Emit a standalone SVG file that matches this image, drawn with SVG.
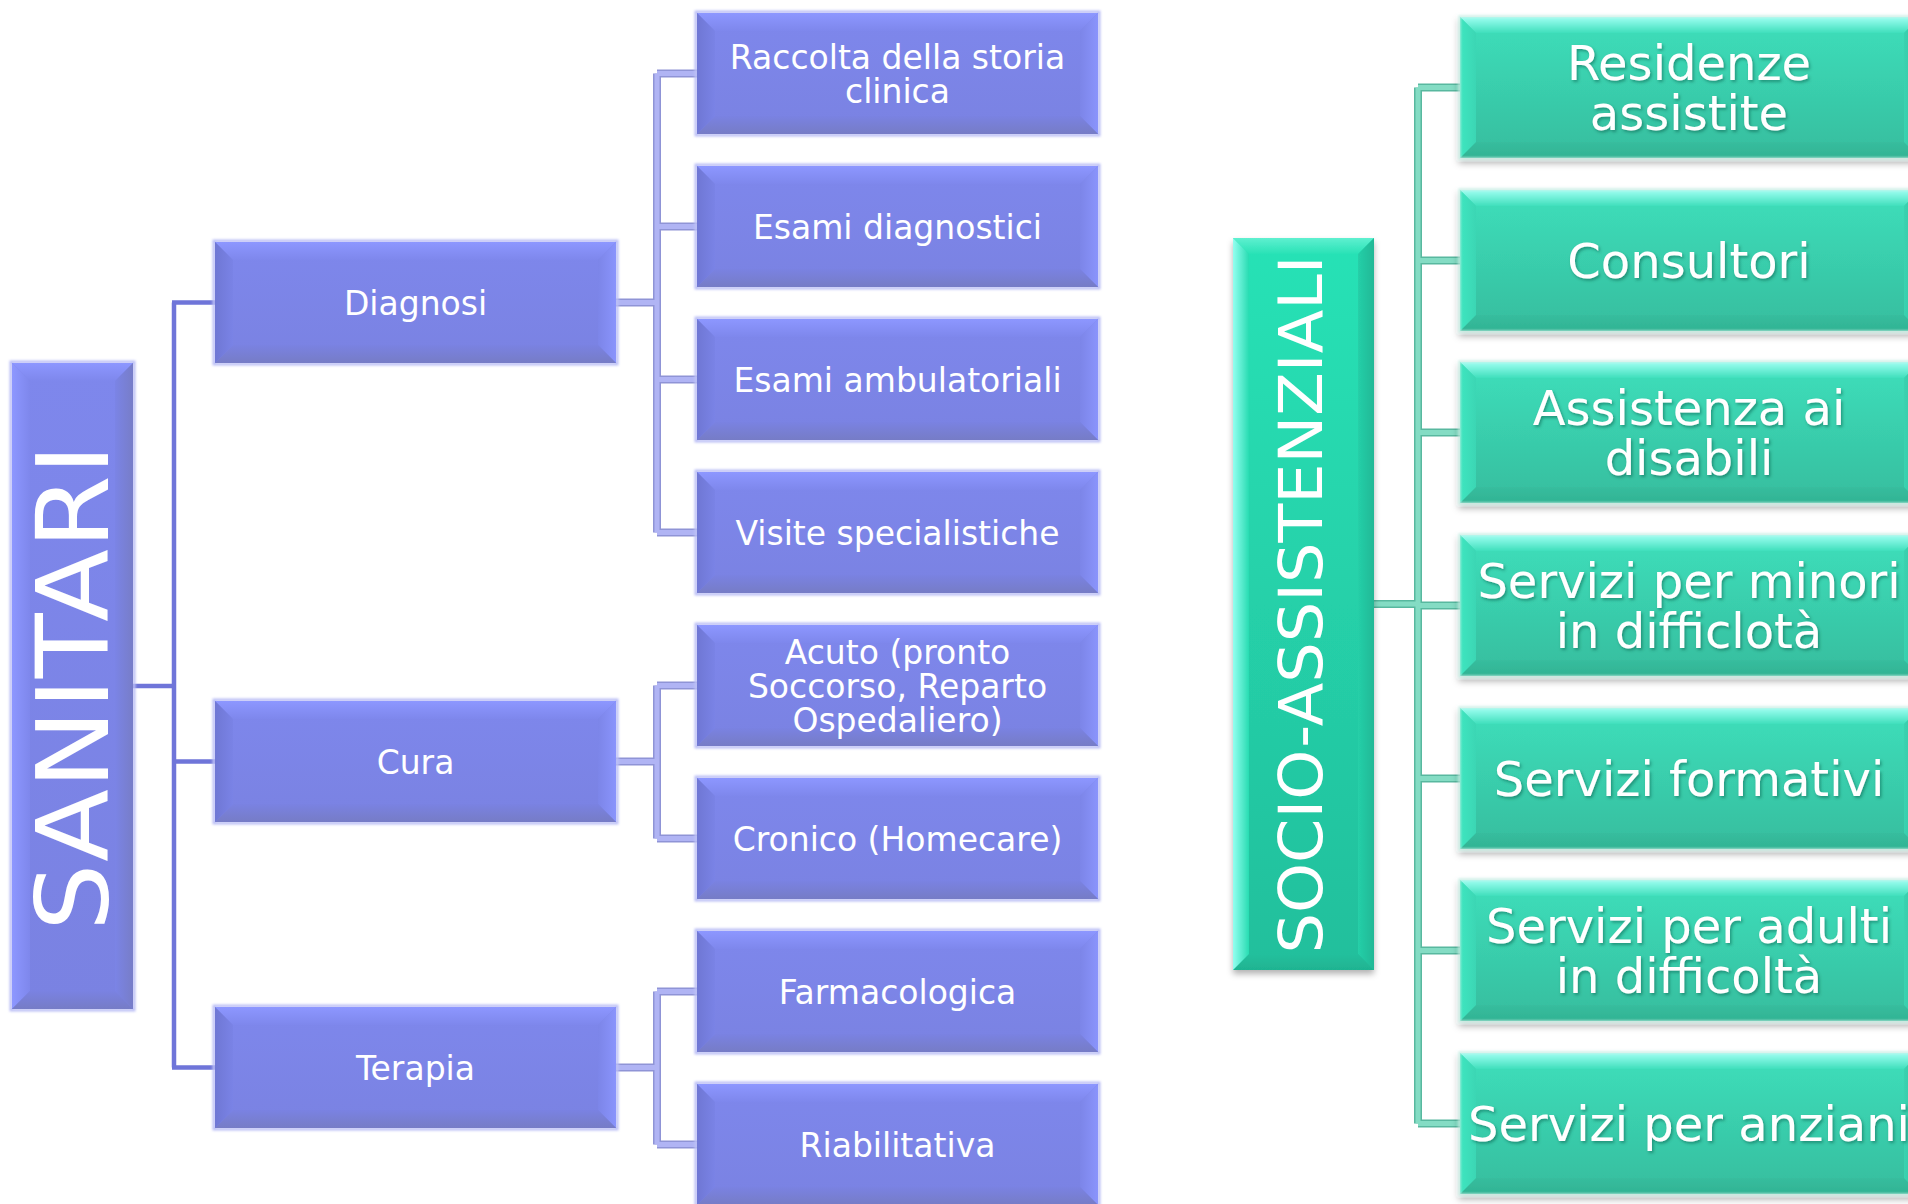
<svg xmlns="http://www.w3.org/2000/svg" xmlns:xlink="http://www.w3.org/1999/xlink" width="1908" height="1204" viewBox="0 0 1908 1204">
  <style>
    .lbl { font-family: "DejaVu Sans", Verdana, sans-serif; fill: #ffffff; text-anchor: middle; }
    .s33 { font-size: 33px; }
    .s48 { font-size: 48px; }
    .halo-b { fill: none; stroke: #bcc0f6; stroke-width: 3; }
    .halo-t { fill: none; stroke: #c8efe6; stroke-width: 2; }
    .lnk-main { fill: none; stroke: #6f75d9; stroke-width: 4.5; }
    .lnk-b-edge { fill: none; stroke: #8f94d6; stroke-width: 8; }
    .lnk-b { fill: none; stroke: #b0b4f4; stroke-width: 5; }
    .lnk-t-edge { fill: none; stroke: #58b89f; stroke-width: 8; }
    .lnk-t { fill: none; stroke: #84dcc4; stroke-width: 5; }
  </style>
  <defs>
    <!-- fills -->
    <linearGradient id="gBlue" x1="0" y1="0" x2="0" y2="1">
      <stop offset="0" stop-color="#7e87ec"/>
      <stop offset="1" stop-color="#7a82e2"/>
    </linearGradient>
    <linearGradient id="gBlueTop" x1="0" y1="0" x2="0" y2="1">
      <stop offset="0" stop-color="#8d97ff"/>
      <stop offset="1" stop-color="#7e87ec"/>
    </linearGradient>
    <linearGradient id="gBlueBot" x1="0" y1="1" x2="0" y2="0">
      <stop offset="0" stop-color="#767cc6"/>
      <stop offset="1" stop-color="#7a82e2"/>
    </linearGradient>
    <linearGradient id="gBlueLeft" x1="0" y1="0" x2="1" y2="0">
      <stop offset="0" stop-color="#6f77d4"/>
      <stop offset="1" stop-color="#7a83e6"/>
    </linearGradient>
    <linearGradient id="gBlueRight" x1="1" y1="0" x2="0" y2="0">
      <stop offset="0" stop-color="#8a94fc"/>
      <stop offset="1" stop-color="#7c85e8"/>
    </linearGradient>
    <linearGradient id="gBlueRightDark" x1="1" y1="0" x2="0" y2="0">
      <stop offset="0" stop-color="#777dc8"/>
      <stop offset="1" stop-color="#7b84e6"/>
    </linearGradient>
    <linearGradient id="gBlueLeftLight" x1="0" y1="0" x2="1" y2="0">
      <stop offset="0" stop-color="#8d97ff"/>
      <stop offset="1" stop-color="#7e87ec"/>
    </linearGradient>

    <linearGradient id="gTeal" x1="0" y1="0" x2="0" y2="1">
      <stop offset="0" stop-color="#3ddfbb"/>
      <stop offset="1" stop-color="#36bd9e"/>
    </linearGradient>
    <linearGradient id="gTealTop" x1="0" y1="0" x2="0" y2="1">
      <stop offset="0" stop-color="#9ffff2"/>
      <stop offset="1" stop-color="#3fdfbc"/>
    </linearGradient>
    <linearGradient id="gTealBot" x1="0" y1="1" x2="0" y2="0">
      <stop offset="0" stop-color="#31b393"/>
      <stop offset="1" stop-color="#37bd9e"/>
    </linearGradient>
    <linearGradient id="gTealLeft" x1="0" y1="0" x2="1" y2="0">
      <stop offset="0" stop-color="#3fe6c0"/>
      <stop offset="1" stop-color="#3bd6b4"/>
    </linearGradient>
    <linearGradient id="gTealRight" x1="1" y1="0" x2="0" y2="0">
      <stop offset="0" stop-color="#34c4a2"/>
      <stop offset="1" stop-color="#3ad2b0"/>
    </linearGradient>

    <linearGradient id="gSocio" x1="0" y1="0" x2="0" y2="1">
      <stop offset="0" stop-color="#28e2b6"/>
      <stop offset="1" stop-color="#22bf9c"/>
    </linearGradient>
    <linearGradient id="gSocioLeft" x1="0" y1="0" x2="1" y2="0">
      <stop offset="0" stop-color="#93fff0"/>
      <stop offset="1" stop-color="#28dcb2"/>
    </linearGradient>
    <linearGradient id="gSocioTop" x1="0" y1="0" x2="0" y2="1">
      <stop offset="0" stop-color="#5ff0d0"/>
      <stop offset="1" stop-color="#28e2b6"/>
    </linearGradient>
    <linearGradient id="gSocioRight" x1="1" y1="0" x2="0" y2="0">
      <stop offset="0" stop-color="#20b896"/>
      <stop offset="1" stop-color="#25cfa8"/>
    </linearGradient>
    <linearGradient id="gSocioBot" x1="0" y1="1" x2="0" y2="0">
      <stop offset="0" stop-color="#1fb391"/>
      <stop offset="1" stop-color="#23c09d"/>
    </linearGradient>

    <filter id="soft" x="-5%" y="-5%" width="110%" height="110%">
      <feGaussianBlur stdDeviation="1.2"/>
    </filter>
    <filter id="shadow" x="-5%" y="-10%" width="110%" height="130%">
      <feDropShadow dx="0" dy="4" stdDeviation="3" flood-color="#000000" flood-opacity="0.3"/>
    </filter>
    <filter id="txtShadow" x="-10%" y="-20%" width="120%" height="150%">
      <feDropShadow dx="1.5" dy="2" stdDeviation="1.5" flood-color="#0b4a3a" flood-opacity="0.45"/>
    </filter>

    <!-- bevelled blue box, 401 x 121 -->
    <g id="blueBox">
      <rect x="-1" y="-1" width="403" height="123" class="halo-b" filter="url(#soft)"/>
      <rect width="401" height="121" fill="url(#gBlue)"/>
      <polygon points="0,0 401,0 383,18 18,18" fill="url(#gBlueTop)"/>
      <polygon points="401,0 401,121 383,103 383,18" fill="url(#gBlueRight)"/>
      <polygon points="0,121 401,121 383,103 18,103" fill="url(#gBlueBot)"/>
      <polygon points="0,0 18,18 18,103 0,121" fill="url(#gBlueLeft)"/>
    </g>

    <!-- bevelled teal box, 460 x 141 -->
    <g id="tealBox">
      <rect width="460" height="141" fill="url(#gTeal)"/>
      <polygon points="0,0 460,0 444,16 16,16" fill="url(#gTealTop)"/>
      <polygon points="0,141 460,141 444,125 16,125" fill="url(#gTealBot)"/>
      <polygon points="0,0 16,16 16,125 0,141" fill="url(#gTealLeft)"/>
      <polygon points="460,0 460,141 444,125 444,16" fill="url(#gTealRight)"/>
      <rect x="-0.5" y="-0.5" width="461" height="142" class="halo-t" filter="url(#soft)"/>
    </g>
  </defs>

  <rect width="1908" height="1204" fill="#ffffff"/>

  <!-- connectors -->
  <g id="connectors">
    <path class="lnk-main" d="M133,686 H174 M174,302.5 V1067.5 M172,302.5 H215 M174,761.5 H215 M172,1067.5 H215"/>
    <path class="lnk-b-edge" d="M616,302.5 H657 M657,73.5 V532.5 M657,73.5 H697 M657,226.5 H697 M657,379.5 H697 M657,532.5 H697 M616,761.5 H657 M657,685.5 V838.5 M657,685.5 H697 M657,838.5 H697 M616,1067.5 H657 M657,991.5 V1144.5 M657,991.5 H697 M657,1144.5 H697"/>
    <path class="lnk-b" d="M616,302.5 H657 M657,73.5 V532.5 M657,73.5 H697 M657,226.5 H697 M657,379.5 H697 M657,532.5 H697 M616,761.5 H657 M657,685.5 V838.5 M657,685.5 H697 M657,838.5 H697 M616,1067.5 H657 M657,991.5 V1144.5 M657,991.5 H697 M657,1144.5 H697"/>
    <path class="lnk-t-edge" d="M1374,604 H1418 M1418,87.5 V1123.5 M1418,87.5 H1460 M1418,260.5 H1460 M1418,432.5 H1460 M1418,605.5 H1460 M1418,778.5 H1460 M1418,950.5 H1460 M1418,1123.5 H1460"/>
    <path class="lnk-t" d="M1374,604 H1418 M1418,87.5 V1123.5 M1418,87.5 H1460 M1418,260.5 H1460 M1418,432.5 H1460 M1418,605.5 H1460 M1418,778.5 H1460 M1418,950.5 H1460 M1418,1123.5 H1460"/>
  </g>

  <!-- SANITARI root (vertical) -->
  <g id="sanitari">
    <rect x="11" y="362" width="123" height="648" class="halo-b" filter="url(#soft)"/>
    <rect x="12" y="363" width="121" height="646" fill="url(#gBlue)"/>
    <polygon points="12,363 133,363 115,381 30,381" fill="url(#gBlueTop)"/>
    <polygon points="12,363 30,381 30,991 12,1009" fill="url(#gBlueLeftLight)"/>
    <polygon points="133,363 133,1009 115,991 115,381" fill="url(#gBlueRightDark)"/>
    <polygon points="12,1009 133,1009 115,991 30,991" fill="url(#gBlueBot)"/>
    <text class="lbl" font-size="100" textLength="487" lengthAdjust="spacingAndGlyphs" transform="translate(108,687.5) rotate(-90)">SANITARI</text>
  </g>

  <!-- second level -->
  <g id="diagnosi">
    <use xlink:href="#blueBox" href="#blueBox" x="215" y="242"/>
    <text class="lbl s33" x="415.5" y="314.5">Diagnosi</text>
  </g>
  <g id="cura">
    <use xlink:href="#blueBox" href="#blueBox" x="215" y="701"/>
    <text class="lbl s33" x="415.5" y="773.5">Cura</text>
  </g>
  <g id="terapia">
    <use xlink:href="#blueBox" href="#blueBox" x="215" y="1007"/>
    <text class="lbl s33" x="415.5" y="1079.5">Terapia</text>
  </g>

  <!-- third level -->
  <g id="raccolta">
    <use xlink:href="#blueBox" href="#blueBox" x="697" y="13"/>
    <text class="lbl s33"><tspan x="897.5" y="68.5">Raccolta della storia</tspan><tspan x="897.5" y="102.5">clinica</tspan></text>
  </g>
  <g id="esami-diagnostici">
    <use xlink:href="#blueBox" href="#blueBox" x="697" y="166"/>
    <text class="lbl s33" x="897.5" y="238.5">Esami diagnostici</text>
  </g>
  <g id="esami-ambulatoriali">
    <use xlink:href="#blueBox" href="#blueBox" x="697" y="319"/>
    <text class="lbl s33" x="897.5" y="391.5">Esami ambulatoriali</text>
  </g>
  <g id="visite">
    <use xlink:href="#blueBox" href="#blueBox" x="697" y="472"/>
    <text class="lbl s33" x="897.5" y="544.5">Visite specialistiche</text>
  </g>
  <g id="acuto">
    <use xlink:href="#blueBox" href="#blueBox" x="697" y="625"/>
    <text class="lbl s33"><tspan x="897.5" y="663.5">Acuto (pronto</tspan><tspan x="897.5" y="697.5">Soccorso, Reparto</tspan><tspan x="897.5" y="731.5">Ospedaliero)</tspan></text>
  </g>
  <g id="cronico">
    <use xlink:href="#blueBox" href="#blueBox" x="697" y="778"/>
    <text class="lbl s33" x="897.5" y="850.5">Cronico (Homecare)</text>
  </g>
  <g id="farmacologica">
    <use xlink:href="#blueBox" href="#blueBox" x="697" y="931"/>
    <text class="lbl s33" x="897.5" y="1003.5">Farmacologica</text>
  </g>
  <g id="riabilitativa">
    <use xlink:href="#blueBox" href="#blueBox" x="697" y="1084"/>
    <text class="lbl s33" x="897.5" y="1156.5">Riabilitativa</text>
  </g>

  <!-- SOCIO-ASSISTENZIALI root (vertical) -->
  <g id="socio" filter="url(#shadow)">
    <rect x="1233" y="238" width="141" height="732" fill="url(#gSocio)"/>
    <polygon points="1233,238 1374,238 1358,254 1249,254" fill="url(#gSocioTop)"/>
    <polygon points="1374,238 1374,970 1358,954 1358,254" fill="url(#gSocioRight)"/>
    <polygon points="1233,970 1374,970 1358,954 1249,954" fill="url(#gSocioBot)"/>
    <polygon points="1233,238 1249,254 1249,954 1233,970" fill="url(#gSocioLeft)"/>
    <text class="lbl" font-size="60" textLength="698" lengthAdjust="spacingAndGlyphs" transform="translate(1322,604.5) rotate(-90)">SOCIO-ASSISTENZIALI</text>
  </g>

  <!-- social-care services -->
  <g id="residenze">
    <use xlink:href="#tealBox" href="#tealBox" x="1460" y="17" filter="url(#shadow)"/>
    <text class="lbl s48" filter="url(#txtShadow)"><tspan x="1689" y="80">Residenze</tspan><tspan x="1689" y="130">assistite</tspan></text>
  </g>
  <g id="consultori">
    <use xlink:href="#tealBox" href="#tealBox" x="1460" y="190" filter="url(#shadow)"/>
    <text class="lbl s48" x="1689" y="278" filter="url(#txtShadow)">Consultori</text>
  </g>
  <g id="disabili">
    <use xlink:href="#tealBox" href="#tealBox" x="1460" y="362" filter="url(#shadow)"/>
    <text class="lbl s48" filter="url(#txtShadow)"><tspan x="1689" y="425">Assistenza ai</tspan><tspan x="1689" y="475">disabili</tspan></text>
  </g>
  <g id="minori">
    <use xlink:href="#tealBox" href="#tealBox" x="1460" y="535" filter="url(#shadow)"/>
    <text class="lbl s48" filter="url(#txtShadow)"><tspan x="1689" y="598">Servizi per minori</tspan><tspan x="1689" y="648">in difficlotà</tspan></text>
  </g>
  <g id="formativi">
    <use xlink:href="#tealBox" href="#tealBox" x="1460" y="708" filter="url(#shadow)"/>
    <text class="lbl s48" x="1689" y="796" filter="url(#txtShadow)">Servizi formativi</text>
  </g>
  <g id="adulti">
    <use xlink:href="#tealBox" href="#tealBox" x="1460" y="880" filter="url(#shadow)"/>
    <text class="lbl s48" filter="url(#txtShadow)"><tspan x="1689" y="943">Servizi per adulti</tspan><tspan x="1689" y="993">in difficoltà</tspan></text>
  </g>
  <g id="anziani">
    <use xlink:href="#tealBox" href="#tealBox" x="1460" y="1053" filter="url(#shadow)"/>
    <text class="lbl s48" x="1689" y="1141" filter="url(#txtShadow)">Servizi per anziani</text>
  </g>
</svg>
